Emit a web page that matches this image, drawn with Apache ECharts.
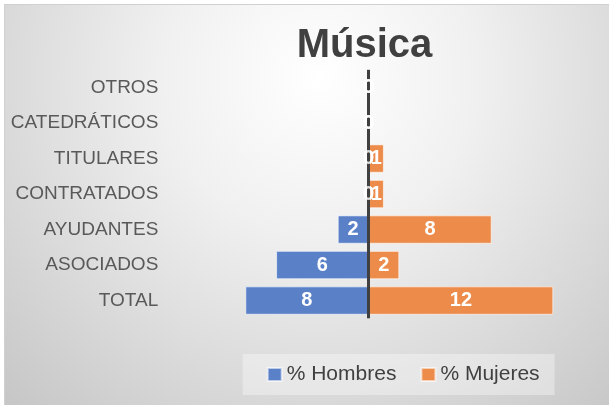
<!DOCTYPE html>
<html>
<head>
<meta charset="utf-8">
<script src="https://cdn.jsdelivr.net/npm/echarts@6/dist/echarts.min.js"></script>
<style>
html,body{margin:0;padding:0;background:#ffffff;width:609px;height:405px;overflow:hidden;}
#frame{position:absolute;left:4px;top:4px;width:606px;height:402px;box-sizing:border-box;border:1px solid #d0d0d0;
background:radial-gradient(circle farthest-corner at 52% 18%, #ffffff 0%, #f0f0f0 35%, #c6c6c6 100%);}
#chart{position:absolute;left:0;top:0;width:604px;height:400px;}
</style>
</head>
<body>
<div id="frame"><div id="chart"></div></div>
<script>
const categories = ['TOTAL','ASOCIADOS','AYUDANTES','CONTRATADOS','TITULARES','CATEDRÁTICOS','OTROS'];
const hombres = [8, 6, 2, 0, 0, 0, 0];
const mujeres = [12, 2, 8, 1, 1, 0, 0];
const seriesNames = ['% Hombres', '% Mujeres'];
const titleText = 'Música';

const chart = echarts.init(document.getElementById('chart'), null, {renderer:'canvas'});
const font = 'Liberation Sans';
const labelStyle = {
  show: true, position: 'inside', color: '#ffffff', fontWeight: 'bold',
  fontSize: 20, fontFamily: font,
  formatter: p => String(Math.abs(p.value))
};
// zero-value labels (bars of zero length still carry a "0" label at the axis)
const zeroLabels = [];
hombres.forEach((v, i) => { if (v === 0) zeroLabels.push([0, categories[i], v]); });
mujeres.forEach((v, i) => { if (v === 0) zeroLabels.push([0, categories[i], v]); });

chart.setOption({
  animation: false,
  backgroundColor: 'transparent',
  title: {
    text: titleText, left: 354.5, top: 16, textAlign: 'center',
    textStyle: {fontFamily: font, fontSize: 40, fontWeight: 'bold', color: '#404040'}
  },
  legend: {
    data: seriesNames, left: 237.7, top: 349,
    icon: 'rect', itemWidth: 14, itemHeight: 13, itemGap: 24,
    padding: [10, 15, 10, 24],
    backgroundColor: 'rgba(255,255,255,0.35)',
    textStyle: {fontFamily: font, fontSize: 21, color: '#404040'}
  },
  grid: {left: 163.3, right: 24.9, top: 64.8, bottom: 86.7, containLabel: false},
  xAxis: {type: 'value', min: -13, max: 14, show: false},
  yAxis: {
    type: 'category', data: categories,
    axisLine: {show: false}, axisTick: {show: false},
    axisLabel: {margin: 10, fontFamily: font, fontSize: 19, color: '#595959'}
  },
  series: [
    {
      name: seriesNames[0], type: 'bar', stack: 'tot', barCategoryGap: '20%',
      data: hombres.map(v => -v),
      itemStyle: {color: '#5a80c8', borderColor: 'rgba(255,255,255,0.6)', borderWidth: 1},
      label: labelStyle,
      markLine: {
        silent: true, symbol: 'none', label: {show: false},
        lineStyle: {color: '#404040', width: 3, type: 'solid'},
        data: [{xAxis: 0}]
      }
    },
    {
      name: seriesNames[1], type: 'bar', stack: 'tot', barCategoryGap: '20%',
      data: mujeres,
      itemStyle: {color: '#ec8b4a', borderColor: 'rgba(255,255,255,0.6)', borderWidth: 1},
      label: labelStyle
    },
    {
      name: 'zeros', type: 'scatter', data: zeroLabels, symbolSize: 0, silent: true,
      z: 10,
      label: {show: true, position: 'inside', color: '#ffffff', fontWeight: 'bold',
        fontSize: 20, fontFamily: font, formatter: p => String(p.value[2])}
    }
  ]
});
</script>
</body>
</html>
